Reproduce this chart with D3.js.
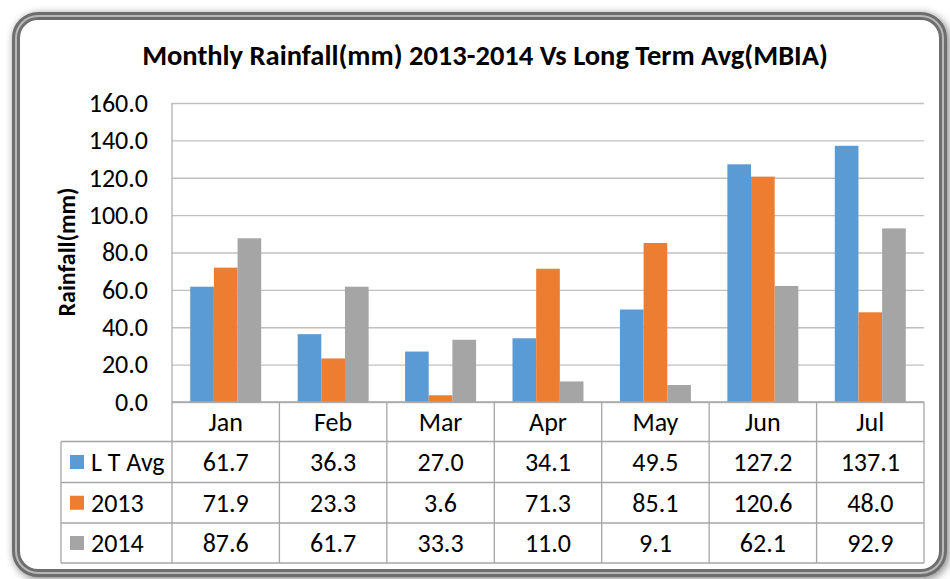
<!DOCTYPE html>
<html><head><meta charset="utf-8">
<script src="https://cdn.jsdelivr.net/npm/d3@7/dist/d3.min.js"></script>
<style>body{margin:0;background:#fff}svg{display:block}text{font-family:Carlito,Calibri,"Open Sans",sans-serif}</style>
</head><body><svg id="c" width="950" height="579"></svg>
<script>
const categories = ["Jan","Feb","Mar","Apr","May","Jun","Jul"];
const seriesNames = ["L T Avg","2013","2014"];
const ltAvg = [61.7,36.3,27.0,34.1,49.5,127.2,137.1];
const y2013 = [71.9,23.3,3.6,71.3,85.1,120.6,48.0];
const y2014 = [87.6,61.7,33.3,11.0,9.1,62.1,92.9];
const yTicks = [0,20,40,60,80,100,120,140,160];
const colors = ["#5b9bd5","#ed7d31","#a5a5a5"];
const series = [ltAvg,y2013,y2014];

const svg = d3.select("#c");
const defs = svg.append("defs");
const f = defs.append("filter").attr("id","sh").attr("x","-5%").attr("y","-5%").attr("width","110%").attr("height","110%");
f.append("feGaussianBlur").attr("in","SourceAlpha").attr("stdDeviation",4).attr("result","b");
f.append("feOffset").attr("dx",2).attr("dy",2).attr("result","o");
f.append("feComponentTransfer").append("feFuncA").attr("type","linear").attr("slope",0.5);
const m = f.append("feMerge"); m.append("feMergeNode"); m.append("feMergeNode").attr("in","SourceGraphic");

// frame
svg.append("rect").attr("x",16).attr("y",16).attr("width",927).attr("height",557).attr("rx",22)
  .attr("fill","#fff").attr("stroke","#6e6e6e").attr("stroke-width",8).attr("filter","url(#sh)");
svg.append("rect").attr("x",16).attr("y",16).attr("width",927).attr("height",557).attr("rx",22)
  .attr("fill","none").attr("stroke","#b8b8b8").attr("stroke-width",2);

const L=172,R=924,T=103,B=402;
const x = d3.scaleBand().domain(categories).range([L,R]).paddingInner(0).paddingOuter(0);
const y = d3.scaleLinear().domain([0,160]).range([B,T]);
const xs = d3.scaleBand().domain(seriesNames).range([0,x.bandwidth()]).paddingInner(0).paddingOuter(0.77);

// grid
const ga = svg.append("g").attr("transform",`translate(${L},0)`)
  .call(d3.axisLeft(y).tickValues(yTicks).tickSize(-(R-L)).tickFormat(d3.format(".1f")).tickPadding(24));
ga.select(".domain").remove();
ga.selectAll(".tick line").attr("stroke","#c0c0c0").attr("stroke-width",1.3);
ga.selectAll(".tick text").attr("font-size",26).attr("fill","#000");
svg.append("line").attr("x1",L).attr("x2",L).attr("y1",T).attr("y2",B).attr("stroke","#b0b0b0").attr("stroke-width",1.3);

// bars
series.forEach((s,i)=>{
  svg.append("g").selectAll("rect").data(s).join("rect")
    .attr("x",(d,j)=>x(categories[j])+xs(seriesNames[i]))
    .attr("width",xs.bandwidth())
    .attr("y",d=>y(d)).attr("height",d=>B-y(d)).attr("fill",colors[i]);
});

// table
const rowH=[B,441.5,482.5,523,563];
const tl=61;
const tg = svg.append("g").attr("stroke","#a6a6a6").attr("stroke-width",1.3);
tg.append("line").attr("x1",L).attr("x2",R).attr("y1",B).attr("y2",B);
for(let r=1;r<rowH.length;r++) tg.append("line").attr("x1",tl).attr("x2",R).attr("y1",rowH[r]).attr("y2",rowH[r]);
categories.forEach((c,j)=>{ tg.append("line").attr("x1",x(c)).attr("x2",x(c)).attr("y1",B).attr("y2",rowH[4]); });
tg.append("line").attr("x1",R).attr("x2",R).attr("y1",B).attr("y2",rowH[4]);
tg.append("line").attr("x1",tl).attr("x2",tl).attr("y1",rowH[1]).attr("y2",rowH[4]);

svg.append("g").selectAll("text").data(categories).join("text")
  .attr("x",d=>x(d)+x.bandwidth()/2).attr("y",(rowH[0]+rowH[1])/2+9).attr("text-anchor","middle")
  .attr("font-size",26).text(d=>d);
series.forEach((s,i)=>{
  const cy=(rowH[i+1]+rowH[i+2])/2;
  svg.append("rect").attr("x",70).attr("y",cy-7).attr("width",14).attr("height",14).attr("fill",colors[i]);
  svg.append("text").attr("x",91).attr("y",cy+9).attr("font-size",26).text(seriesNames[i]);
  svg.append("g").selectAll("text").data(s).join("text")
    .attr("x",(d,j)=>x(categories[j])+x.bandwidth()/2).attr("y",cy+9).attr("text-anchor","middle")
    .attr("font-size",26).text(d=>d3.format(".1f")(d));
});

// title & y label
svg.append("text").attr("x",485).attr("y",65).attr("text-anchor","middle").attr("font-size",28.5).attr("font-weight","bold")
  .text("Monthly Rainfall(mm) 2013-2014 Vs Long Term Avg(MBIA)");
svg.append("text").attr("transform","translate(75,252) rotate(-90)").attr("text-anchor","middle").attr("font-size",24).attr("font-weight","bold")
  .text("Rainfall(mm)");
</script></body></html>
